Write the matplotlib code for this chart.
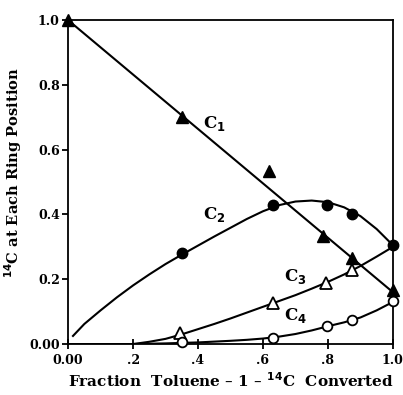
import matplotlib.pyplot as plt

# measured points
c1_x = [0.0, 0.35, 0.62, 0.785, 0.874, 1.0]
c1_y = [1.0, 0.70, 0.535, 0.335, 0.265, 0.166]
c1_line_x = [0.0, 1.0]
c1_line_y = [1.0, 0.16]

c2_x = [0.35, 0.63, 0.797, 0.874, 1.0]
c2_y = [0.28, 0.428, 0.43, 0.403, 0.305]
c2_curve_x = [0.015, 0.05, 0.1, 0.15, 0.2, 0.25, 0.3, 0.35, 0.4, 0.45, 0.5, 0.55,
              0.6, 0.65, 0.7, 0.75, 0.8, 0.85, 0.9, 0.95, 1.0]
c2_curve_y = [0.025, 0.062, 0.104, 0.144, 0.181, 0.215, 0.247, 0.276, 0.304, 0.332,
              0.359, 0.386, 0.41, 0.429, 0.44, 0.443, 0.438, 0.422, 0.395, 0.355, 0.305]

c3_x = [0.345, 0.63, 0.794, 0.874]
c3_y = [0.035, 0.126, 0.188, 0.23]
c3_curve_x = [0.2, 0.25, 0.3, 0.35, 0.4, 0.45, 0.5, 0.55, 0.6, 0.65, 0.7, 0.75,
              0.8, 0.85, 0.9, 0.95, 1.0]
c3_curve_y = [0.0, 0.007, 0.016, 0.03, 0.046, 0.062, 0.079, 0.097, 0.115, 0.133,
              0.151, 0.171, 0.192, 0.215, 0.241, 0.27, 0.30]

c4_x = [0.35, 0.63, 0.797, 0.874, 1.0]
c4_y = [0.006, 0.02, 0.055, 0.074, 0.132]
c4_curve_x = [0.0, 0.2, 0.3, 0.4, 0.5, 0.55, 0.6, 0.65, 0.7, 0.75, 0.8, 0.85,
              0.9, 0.95, 1.0]
c4_curve_y = [0.0, 0.0, 0.002, 0.005, 0.01, 0.013, 0.017, 0.023, 0.031, 0.042,
              0.055, 0.067, 0.082, 0.104, 0.13]

xticks = [0.0, 0.2, 0.4, 0.6, 0.8, 1.0]
xtick_labels = ['0.00', '.2', '.4', '.6', '.8', '1.0']
yticks = [0.0, 0.2, 0.4, 0.6, 0.8, 1.0]
ytick_labels = ['0.00', '0.2', '0.4', '0.6', '0.8', '1.0']

plt.rcParams['font.family'] = 'DejaVu Serif'
plt.rcParams['font.weight'] = 'bold'
plt.rcParams['mathtext.default'] = 'bf'

fig = plt.figure(figsize=(4.03, 3.95), dpi=100)
ax = fig.add_axes([0.169, 0.129, 0.806, 0.820])

lw = 1.5
ax.plot(c1_line_x, c1_line_y, color='black', lw=lw)
ax.plot(c2_curve_x, c2_curve_y, color='black', lw=lw)
ax.plot(c3_curve_x, c3_curve_y, color='black', lw=lw)
ax.plot(c4_curve_x, c4_curve_y, color='black', lw=lw)

ax.plot(c1_x, c1_y, '^', color='black', ms=8, clip_on=False, zorder=5)
ax.plot(c2_x, c2_y, 'o', color='black', ms=7.5, clip_on=False, zorder=5)
ax.plot(c3_x, c3_y, '^', mfc='white', mec='black', mew=1.3, ms=8, clip_on=False, zorder=5)
ax.plot(c4_x, c4_y, 'o', mfc='white', mec='black', mew=1.3, ms=7, clip_on=False, zorder=5)

ax.text(0.45, 0.68, 'C$_1$', fontsize=12, ha='center', va='center')
ax.text(0.45, 0.40, 'C$_2$', fontsize=12, ha='center', va='center')
ax.text(0.70, 0.207, 'C$_3$', fontsize=12, ha='center', va='center')
ax.text(0.70, 0.087, 'C$_4$', fontsize=12, ha='center', va='center')

ax.set_xlim(0, 1.0)
ax.set_ylim(0, 1.0)
ax.set_xticks(xticks)
ax.set_xticklabels(xtick_labels, fontsize=9, fontweight='bold')
ax.set_yticks(yticks)
ax.set_yticklabels(ytick_labels, fontsize=9, fontweight='bold')
ax.tick_params(axis='x', direction='inout', length=7, width=1.3, pad=4)
ax.tick_params(axis='y', direction='out', length=4, width=1.3, pad=2)
for s in ax.spines.values():
    s.set_linewidth(1.3)

ax.set_xlabel('Fraction  Toluene – 1 – $^{14}$C  Converted', fontsize=11,
              fontweight='bold')
ax.xaxis.set_label_coords(0.5, -0.085)
ax.set_ylabel('$^{14}$C at Each Ring Position', fontsize=10.5, fontweight='bold')
ax.yaxis.set_label_coords(-0.135, 0.53)

fig.savefig('out.png', dpi=100)
